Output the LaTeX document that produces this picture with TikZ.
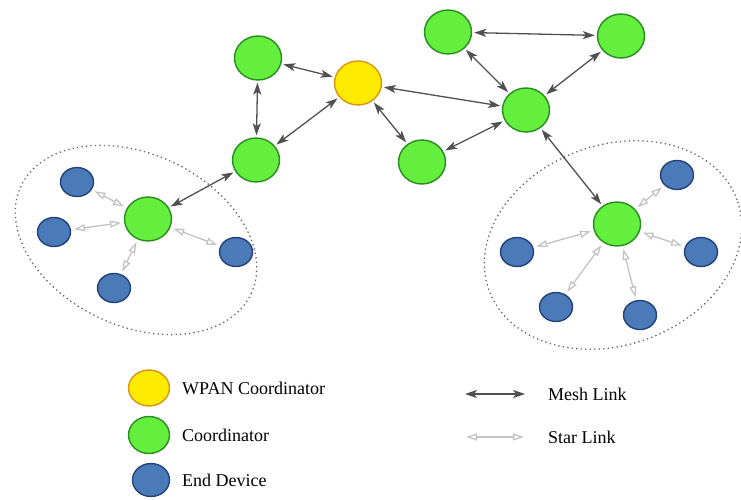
\documentclass[tikz,border=0pt]{standalone}
\usepackage{fontspec}
\setmainfont{Liberation Serif}
\newfontfamily\legendfont{Liberation Serif}
\usetikzlibrary{arrows.meta, shapes.geometric}
\definecolor{greenfill}{RGB}{100,238,62}
\definecolor{greendraw}{RGB}{40,140,30}
\definecolor{yellowfill}{RGB}{255,234,0}
\definecolor{yellowdraw}{RGB}{214,150,20}
\definecolor{bluefill}{RGB}{74,122,184}
\definecolor{bluedraw}{RGB}{36,66,120}
\definecolor{meshgray}{RGB}{80,80,80}
\definecolor{stargray}{RGB}{195,195,195}
\definecolor{ringgray}{RGB}{100,100,100}

\begin{document}
\begin{tikzpicture}[x=1pt, y=1pt,
  coord/.style={ellipse, draw=greendraw, fill=greenfill, line width=1.4pt, minimum width=47pt, minimum height=44pt, inner sep=0pt},
  wpan/.style={coord, draw=yellowdraw, fill=yellowfill},
  device/.style={ellipse, draw=bluedraw, fill=bluefill, line width=1.4pt, minimum width=33pt, minimum height=29pt, inner sep=0pt},
  mesh/.style={draw=meshgray, line width=1.3pt, {Stealth[length=12pt, width=8pt, inset=3pt]}-{Stealth[length=12pt, width=8pt, inset=3pt]}, shorten <=2pt, shorten >=2pt},
  star/.style={draw=stargray, line width=1.3pt, {Triangle[open, length=11pt, width=7pt]}-{Triangle[open, length=11pt, width=7pt]}, shorten <=3pt, shorten >=3pt},
  ring/.style={draw=ringgray, line width=1.3pt, dash pattern=on 1.3pt off 3.2pt},
  legendtext/.style={anchor=west, inner sep=0pt, font=\legendfont\fontsize{18}{20}\selectfont}]
\useasboundingbox (0,0) rectangle (741,499);

\draw[ring, rotate around={-25:(136,259)}] (136,259) ellipse [x radius=127pt, y radius=86pt];
\draw[ring, rotate around={20:(613,254)}] (613,254) ellipse [x radius=132pt, y radius=100pt];

\node[wpan] (wpan) at (358,416) {};
\node[coord] (c1) at (258,441) {};
\node[coord] (c2) at (256,339) {};
\node[coord] (c3) at (422,337) {};
\node[coord] (c4) at (448,467) {};
\node[coord] (c5) at (621,463) {};
\node[coord] (c6) at (526,389) {};
\node[coord] (c7) at (148,280) {};
\node[coord] (c8) at (617,275) {};

\node[device] (e1) at (77,317) {};
\node[device] (e2) at (54,267) {};
\node[device] (e3) at (236,247) {};
\node[device] (e4) at (114,211) {};
\node[device] (e5) at (677,324) {};
\node[device] (e6) at (517,247) {};
\node[device] (e7) at (701,247) {};
\node[device] (e8) at (556,192) {};
\node[device] (e9) at (640,184) {};

\draw[mesh] (c1) -- (wpan);
\draw[mesh] (c1) -- (c2);
\draw[mesh] (c2) -- (wpan);
\draw[mesh] (wpan) -- (c3);
\draw[mesh] (wpan) -- (c6);
\draw[mesh] (c3) -- (c6);
\draw[mesh] (c4) -- (c5);
\draw[mesh] (c4) -- (c6);
\draw[mesh] (c5) -- (c6);
\draw[mesh] (c6) -- (c8);
\draw[mesh] (c2) -- (c7);

\draw[star] (c7) -- (e1);
\draw[star] (c7) -- (e2);
\draw[star] (c7) -- (e3);
\draw[star] (c7) -- (e4);
\draw[star] (c8) -- (e5);
\draw[star] (c8) -- (e6);
\draw[star] (c8) -- (e7);
\draw[star] (c8) -- (e8);
\draw[star] (c8) -- (e9);

\node[wpan, minimum width=41pt, minimum height=36pt] (lwpan) at (149,111) {};
\node[coord, minimum width=41pt, minimum height=37pt] (lcoord) at (149,64) {};
\node[device, minimum width=37pt, minimum height=33pt] (ldevice) at (151,19) {};
\node[legendtext] (twpan) at (182,111) {WPAN Coordinator};
\node[legendtext] (tcoord) at (182,64) {Coordinator};
\node[legendtext] (tdevice) at (182,19) {End Device};

\coordinate (m1) at (463,105);
\coordinate (m2) at (527,105);
\coordinate (s1) at (463,62);
\coordinate (s2) at (527,62);
\draw[mesh] (m1) -- (m2);
\draw[star] (s1) -- (s2);
\node[legendtext] (tmesh) at (548,105) {Mesh Link};
\node[legendtext] (tstar) at (548,62) {Star Link};
\end{tikzpicture}
\end{document}
